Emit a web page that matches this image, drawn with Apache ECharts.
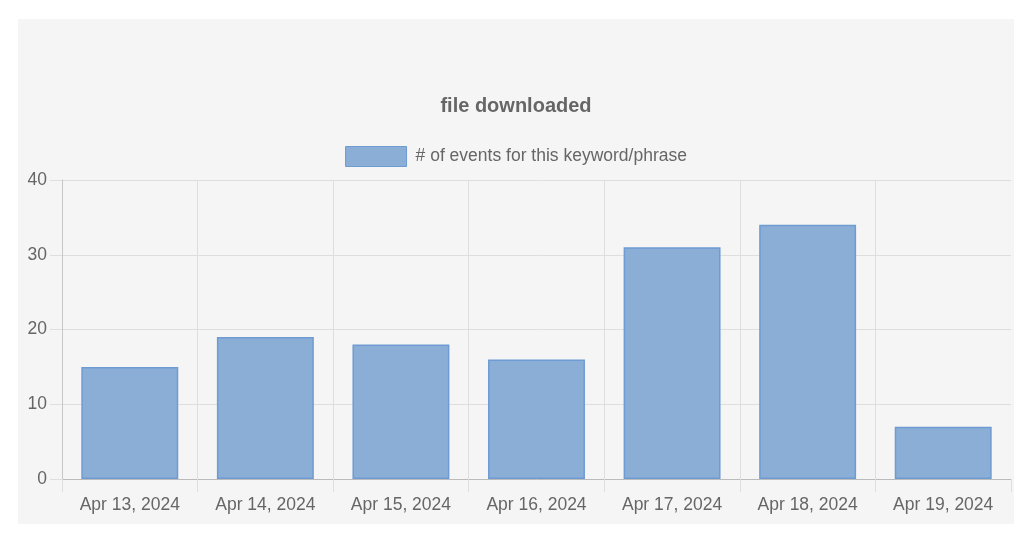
<!DOCTYPE html>
<html>
<head>
<meta charset="utf-8">
<script src="https://cdn.jsdelivr.net/npm/echarts@6/dist/echarts.min.js"></script>
<style>
  html, body { margin: 0; padding: 0; background: #fff; }
  #panel { position: absolute; left: 18px; top: 19px; width: 996px; height: 505px; background: #f5f5f5; }
  #chart { width: 100%; height: 100%; }
</style>
</head>
<body>
<div id="panel"><div id="chart"></div></div>
<script>
'use strict';

/* ── Data ── */
const DAYS   = ['Apr 13, 2024', 'Apr 14, 2024', 'Apr 15, 2024', 'Apr 16, 2024', 'Apr 17, 2024', 'Apr 18, 2024', 'Apr 19, 2024'];
const EVENTS = [15, 19, 18, 16, 31, 34, 7];
const Y_TICKS = { min: 0, max: 40, step: 10 };

const FONT = "'Helvetica Neue', Helvetica, Arial, 'Liberation Sans', sans-serif";
const TEXT = '#666';
const GRID = '#dedede';

const chart = echarts.init(document.getElementById('chart'), null, { renderer: 'canvas' });

chart.setOption({
  backgroundColor: 'transparent',
  textStyle: { fontFamily: FONT, color: TEXT },
  animation: false,
  title: {
    text: 'file downloaded',
    left: 'center',
    top: 72,
    textStyle: { fontFamily: FONT, fontSize: 20, fontWeight: 'bold', color: TEXT }
  },
  legend: {
    top: 122,
    left: 'center',
    icon: 'rect',
    itemWidth: 61,
    itemHeight: 20,
    itemGap: 10,
    textStyle: { fontFamily: FONT, fontSize: 17.5, color: TEXT, padding: [0, 0, 0, 4] },
    itemStyle: { color: '#8aaed6', borderColor: '#6f9bd3', borderWidth: 1 }
  },
  grid: { left: 44, right: 3, top: 161, bottom: 45, containLabel: false },
  xAxis: {
    type: 'category',
    data: DAYS,
    boundaryGap: true,
    axisLine: { show: true, lineStyle: { color: '#bbbbbb', width: 1 } },
    axisTick: { show: true, length: 13, lineStyle: { color: GRID } },
    splitLine: { show: true, showMinLine: false, showMaxLine: false, lineStyle: { color: GRID } },
    axisLabel: { fontFamily: FONT, fontSize: 17.5, color: TEXT, margin: 17 }
  },
  yAxis: {
    type: 'value',
    min: Y_TICKS.min,
    max: Y_TICKS.max,
    interval: Y_TICKS.step,
    axisLine: { show: true, lineStyle: { color: '#c6c6c6', width: 1 } },
    axisTick: { show: true, length: 12, lineStyle: { color: GRID } },
    splitLine: { show: true, lineStyle: { color: GRID } },
    axisLabel: { fontFamily: FONT, fontSize: 17.5, color: TEXT, margin: 15 }
  },
  series: [{
    name: '# of events for this keyword/phrase',
    type: 'bar',
    data: EVENTS,
    barCategoryGap: '28.5%',
    itemStyle: { color: '#8aaed6', borderColor: '#6f9bd3', borderWidth: 1.5 }
  }]
});
</script>
</body>
</html>
